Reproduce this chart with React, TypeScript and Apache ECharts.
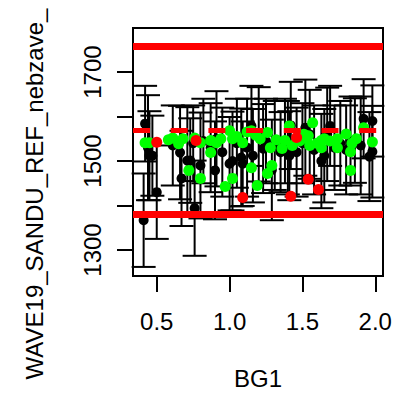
import React, { useEffect, useRef } from "react";
import * as echarts from "echarts";

// ---- data ----
const xTicks = [0.5, 1.0, 1.5, 2.0];
const xLabels = [0.5, 1.0, 1.5, 2.0];
const yTicks = [1300, 1400, 1500, 1600, 1700];
const yLabels = [1300, 1500, 1700];

const blackX = [0.42, 0.41, 0.50, 0.45, 0.47, 0.44, 0.61, 0.66, 0.67, 0.71, 0.73, 0.76, 0.80, 0.75, 0.82, 0.87, 0.90, 0.91, 0.95, 1.00, 1.02, 1.05, 1.08, 1.09, 1.12, 1.15, 1.16, 1.20, 1.23, 1.25, 1.29, 1.31, 1.35, 1.38, 1.40, 1.41, 1.42, 1.46, 1.50, 1.52, 1.55, 1.58, 1.63, 1.65, 1.67, 1.69, 1.72, 1.76, 1.80, 1.83, 1.86, 1.90, 1.92, 1.96, 1.98, 1.98];
const blackY = [1584, 1367, 1430, 1512, 1512, 1530, 1535, 1519, 1461, 1501, 1501, 1394, 1490, 1540, 1545, 1530, 1479, 1550, 1520, 1494, 1500, 1540, 1508, 1494, 1530, 1579, 1512, 1560, 1528, 1545, 1480, 1535, 1520, 1545, 1530, 1512, 1580, 1520, 1540, 1575, 1560, 1525, 1500, 1512, 1560, 1579, 1530, 1540, 1525, 1545, 1546, 1535, 1595, 1510, 1590, 1521];
const blackErr = [85, 105, 105, 100, 90, 118, 90, 105, 107, 120, 95, 107, 119, 85, 95, 100, 110, 107, 100, 105, 111, 100, 110, 95, 110, 90, 105, 106, 100, 95, 113, 100, 90, 95, 105, 100, 98, 100, 90, 108, 100, 100, 106, 105, 105, 90, 95, 95, 100, 100, 95, 110, 89, 100, 80, 103];

const greenX = [0.42, 0.45, 0.61, 0.65, 0.68, 0.76, 0.80, 0.87, 0.87, 0.72, 0.80, 0.91, 0.94, 1.00, 1.02, 1.09, 1.15, 1.02, 0.97, 1.19, 1.21, 1.26, 1.28, 1.29, 1.26, 1.36, 1.38, 1.43, 1.41, 1.57, 1.54, 1.55, 1.63, 1.63, 1.65, 1.74, 1.74, 1.80, 1.83, 1.83, 1.87, 1.92, 1.98, 1.12, 1.18, 1.15, 1.05, 1.32, 1.48, 1.51, 1.60, 0.58, 1.53, 1.69, 1.84];
const greenY = [1541, 1541, 1552, 1539, 1550, 1552, 1541, 1546, 1519, 1479, 1461, 1541, 1550, 1568, 1550, 1541, 1485, 1461, 1443, 1445, 1550, 1564, 1530, 1490, 1472, 1528, 1546, 1535, 1579, 1586, 1557, 1535, 1546, 1530, 1550, 1550, 1530, 1561, 1521, 1479, 1550, 1575, 1543, 1565, 1558, 1568, 1555, 1548, 1545, 1560, 1540, 1548, 1550, 1545, 1540];

const redX = [0.50, 0.77, 1.09, 1.42, 1.46, 1.54, 1.61];
const redY = [1542, 1546, 1418, 1421, 1553, 1459, 1436];

const refLines = [1758, 1570, 1381];

const xTitle = "BG1";
const yTitle = "WAVE19_SANDU_REF_nebzave_";

const FONT = '"Liberation Sans", Arial, Helvetica, sans-serif';

export default function App() {
  const ref = useRef<HTMLDivElement>(null);
  useEffect(() => {
    document.body.style.margin = "0";
    const chart = echarts.init(ref.current!, null, { renderer: "svg" });
    const errData = blackX.map((x, i) => [x, blackY[i] - blackErr[i], blackY[i] + blackErr[i]]);
    const blackData = blackX.map((x, i) => [x, blackY[i]]);
    const greenData = greenX.map((x, i) => [x, greenY[i]]);
    const redData = redX.map((x, i) => [x, redY[i]]);
    const option: any = {
      animation: false,
      textStyle: { fontFamily: FONT },
      grid: {
        left: 133, right: 15, top: 28, bottom: 128,
        outerBoundsMode: "none", containLabel: false,
        show: true, borderColor: "#000", borderWidth: 2, backgroundColor: "transparent",
      },
      graphic: [
        {
          type: "text",
          x: 34, y: 194,
          rotation: Math.PI / 2,
          style: {
            text: yTitle, fontSize: 24, fontFamily: FONT, fill: "#000",
            align: "center", verticalAlign: "middle",
          },
        },
      ],
      xAxis: {
        type: "value", min: 0.337, max: 2.053,
        axisLine: { show: false }, splitLine: { show: false },
        axisTick: { show: true, length: 16, customValues: xTicks, lineStyle: { color: "#000", width: 2 } },
        axisLabel: { customValues: xLabels, margin: 33, fontSize: 24, color: "#000", fontFamily: FONT,
          formatter: (v: number) => v.toFixed(1) },
        name: xTitle, nameLocation: "middle", nameGap: 90,
        nameTextStyle: { fontSize: 24, color: "#000", fontFamily: FONT },
      },
      yAxis: {
        type: "value", min: 1241.6, max: 1799,
        axisLine: { show: false }, splitLine: { show: false },
        axisTick: { show: true, length: 16, customValues: yTicks, lineStyle: { color: "#000", width: 2 } },
        axisLabel: { customValues: yLabels, rotate: 90, margin: 29, fontSize: 24, color: "#000", fontFamily: FONT,
          formatter: (v: number) => String(Math.round(v)) },
      },
      series: [
        {
          type: "custom",
          z: 1,
          data: errData,
          encode: { x: 0, y: [1, 2] },
          renderItem: (params: any, api: any) => {
            const x = api.value(0);
            const top = api.coord([x, api.value(2)]);
            const bot = api.coord([x, api.value(1)]);
            const hw = 12;
            const style = { stroke: "#000", lineWidth: 2 };
            return {
              type: "group",
              children: [
                { type: "line", shape: { x1: top[0], y1: top[1], x2: bot[0], y2: bot[1] }, style },
                { type: "line", shape: { x1: top[0] - hw, y1: top[1], x2: top[0] + hw, y2: top[1] }, style },
                { type: "line", shape: { x1: bot[0] - hw, y1: bot[1], x2: bot[0] + hw, y2: bot[1] }, style },
              ],
            };
          },
        },
        {
          type: "scatter", z: 2, data: blackData, symbolSize: 10,
          itemStyle: { color: "#000", opacity: 1 },
        },
        {
          type: "scatter", z: 3, data: [],
          markLine: {
            silent: true, symbol: ["none", "none"], label: { show: false },
            lineStyle: { color: "#ff0000", cap: "butt" },
            data: [
              { yAxis: refLines[0], lineStyle: { width: 7, type: "solid", color: "#ff0000" } },
              { yAxis: refLines[1], lineStyle: { width: 5, type: [17, 20.7], color: "#ff0000" } },
              { yAxis: refLines[2], lineStyle: { width: 7, type: "solid", color: "#ff0000" } },
            ],
          },
        },
        {
          type: "scatter", z: 4, data: greenData, symbolSize: 11,
          itemStyle: { color: "#00ff00", opacity: 1 },
        },
        {
          type: "scatter", z: 5, data: redData, symbolSize: 11,
          itemStyle: { color: "#ff0000", opacity: 1 },
        },
      ],
    };
    chart.setOption(option);
    return () => chart.dispose();
  }, []);
  return <div ref={ref} style={{ width: 398, height: 404 }} />;
}
